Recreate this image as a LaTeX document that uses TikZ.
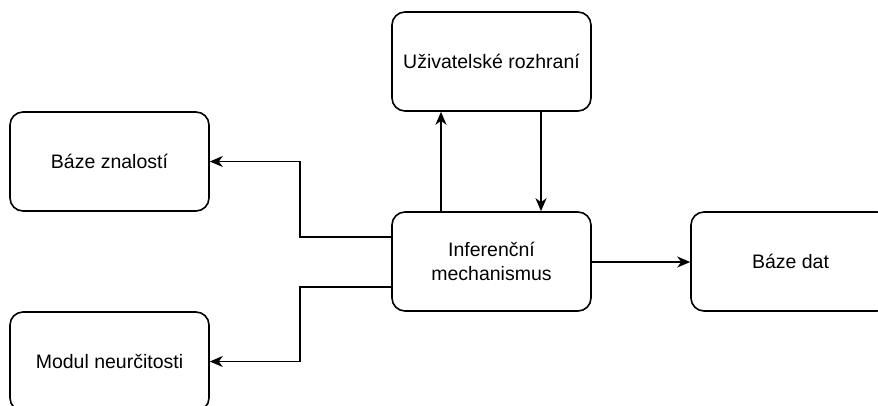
\documentclass[tikz,border=0pt]{standalone}
\usepackage{fontspec}
\setmainfont{Liberation Sans}
\usetikzlibrary{arrows.meta}
\begin{document}
\begin{tikzpicture}[x=1pt,y=-1pt,
  blok/.style={draw=black, line width=1.6pt, rounded corners=13pt, minimum width=199pt, minimum height=99pt, fill=white, align=center, font=\fontsize{19.5}{24}\selectfont, inner sep=0pt},
  spoj/.style={draw=black, line width=1.6pt, -{Stealth[length=13pt,width=11pt,inset=4pt]}}]
\useasboundingbox (0,0) rectangle (878,405);
\begin{scope}
\clip (0,0) rectangle (878,405);
\node[blok] (ui) at (491.5,61.5) {Uživatelské rozhraní};
\node[blok] (bz) at (109.5,161.5) {Báze znalostí};
\node[blok] (im) at (491.5,261.5) {Inferenční\\mechanismus};
\node[blok] (bd) at (790.5,261.5) {Báze dat};
\node[blok] (mn) at (109.5,361.5) {Modul neurčitosti};
\end{scope}
% connectors from the inference engine
\draw[spoj] (im.west |- 0,237) -| (300,200) |- (bz.east);
\draw[spoj] (im.west |- 0,287) -| (300,330) |- (mn.east);
\draw[spoj] (im.north -| 441,0) -- (ui.south -| 441,0);
\draw[spoj] (ui.south -| 541,0) -- (im.north -| 541,0);
\draw[spoj] (im.east |- 0,262) -- (bd.west |- 0,262);
\end{tikzpicture}
\end{document}
